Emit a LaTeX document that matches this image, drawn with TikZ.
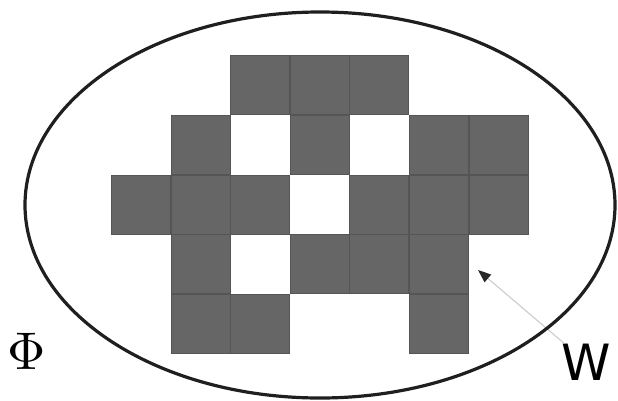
\documentclass[tikz,border=0pt]{standalone}
\usepackage{fontspec}
\usetikzlibrary{arrows.meta,positioning,calc}
\newfontfamily\labelsans{DejaVu Sans}
\definecolor{CellGray}{HTML}{666666}
\definecolor{CellEdge}{HTML}{555555}
\definecolor{PointerGray}{HTML}{C8C8C8}
\tikzset{cell/.style={draw=CellEdge,line width=0.7pt,fill=CellGray,minimum size=59pt,inner sep=0pt,anchor=north west},ptr/.style={-{Triangle[length=13pt,width=10pt,color=black!85]},PointerGray,line width=1pt},setlabel/.style={inner sep=0pt,font=\fontsize{50}{50}\selectfont}}

\begin{document}
\begin{tikzpicture}[x=1pt,y=-1pt]
\useasboundingbox (0,0) rectangle (618,400);
% occupied cells of the grid (column/row)
\foreach \c/\r in {2/0,3/0,4/0,1/1,3/1,5/1,6/1,0/2,1/2,2/2,4/2,5/2,6/2,1/3,3/3,4/3,5/3,1/4,2/4,5/4}
  \node[cell] (c\c\r) at (111+59.6*\c,55+59.8*\r) {};
\node[inner sep=0pt] (phi) at (27,351) {\scalebox{5.3}{$\Phi$}};
\node[setlabel,font=\labelsans\fontsize{50}{50}\selectfont] (wlabel) at (586,362) {W};
\coordinate (wtip) at (478,270);
\draw[ptr] (wlabel) -- (wtip);
\draw[line width=3.2pt,black!88] (320,205) ellipse [x radius=295,y radius=193];
\end{tikzpicture}
\end{document}
